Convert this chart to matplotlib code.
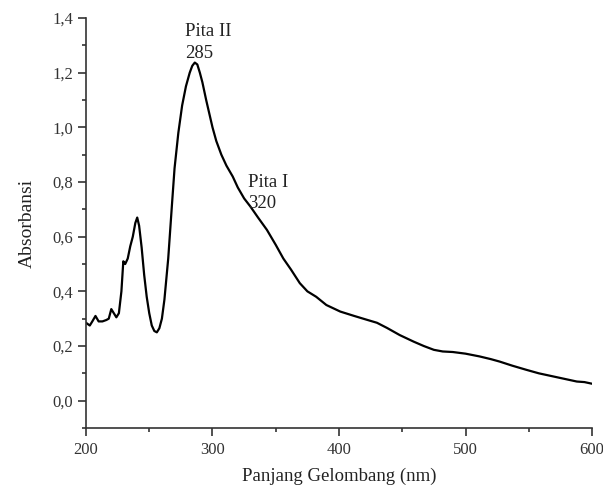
import matplotlib
matplotlib.use("Agg")
import matplotlib.pyplot as plt
from matplotlib.ticker import MultipleLocator, FuncFormatter

wavelength = [200, 203, 205, 207.5, 210, 213, 216, 218, 220, 222, 224, 226, 228, 229.5, 231, 233, 235, 237, 239, 240.5,
              242, 244, 246, 248, 250, 252, 254, 256, 258, 260, 262, 265, 268, 270, 273, 276, 279, 282, 284, 286,
              288, 290, 292, 295, 298, 300, 303, 307, 311, 316, 320, 325, 330, 336, 343, 350, 356, 362, 369,
              375, 382, 390, 401, 412, 422, 430, 438, 448, 459, 467, 475, 482, 490, 500, 511, 520, 527, 537,
              548, 558, 569, 578, 588, 594, 600]
absorb = [0.285, 0.275, 0.29, 0.31, 0.29, 0.29, 0.295, 0.30, 0.335, 0.32, 0.305, 0.32, 0.40, 0.51, 0.50, 0.52, 0.565, 0.60, 0.65, 0.67,
          0.64, 0.56, 0.46, 0.38, 0.32, 0.275, 0.255, 0.25, 0.265, 0.30, 0.37, 0.52, 0.72, 0.85, 0.98, 1.08, 1.15, 1.20, 1.225, 1.237,
          1.23, 1.20, 1.165, 1.10, 1.04, 1.00, 0.95, 0.90, 0.86, 0.82, 0.78, 0.74, 0.71, 0.67, 0.625, 0.57, 0.52, 0.48, 0.43,
          0.40, 0.38, 0.35, 0.326, 0.31, 0.296, 0.285, 0.266, 0.24, 0.216, 0.20, 0.186, 0.18, 0.178, 0.172, 0.162, 0.152, 0.143, 0.128,
          0.113, 0.10, 0.089, 0.08, 0.07, 0.068, 0.062]

x_ticks = [200, 300, 400, 500, 600]
y_ticks = [0.0, 0.2, 0.4, 0.6, 0.8, 1.0, 1.2, 1.4]

plt.rcParams['font.family'] = ['Liberation Serif', 'DejaVu Serif']

fig = plt.figure(figsize=(6.03, 4.91), dpi=100)
ax = fig.add_axes([0.1426, 0.1283, 0.8392, 0.835])
ax.plot(wavelength, absorb, color='black', lw=1.6)
ax.set_xlim(200, 600)
ax.set_ylim(-0.1, 1.4)
ax.set_xticks(x_ticks)
ax.set_yticks(y_ticks)
ax.xaxis.set_minor_locator(MultipleLocator(50))
ax.yaxis.set_minor_locator(MultipleLocator(0.1))
ax.yaxis.set_major_formatter(FuncFormatter(lambda v, p: f"{v:.1f}".replace('.', ',')))
ax.spines['top'].set_visible(False)
ax.spines['right'].set_visible(False)
for s in ['left', 'bottom']:
    ax.spines[s].set_linewidth(1.2)
    ax.spines[s].set_color('#333333')
ax.tick_params(which='major', direction='out', length=6, width=1.2, labelsize=12, colors='#333333', pad=3)
ax.tick_params(which='minor', direction='out', length=3, width=1.2, colors='#333333')
ax.tick_params(axis='x', which='major', pad=4)
ax.set_xlabel('Panjang Gelombang (nm)', fontsize=13.5, color='#222222', labelpad=7)
ax.set_ylabel('Absorbansi', fontsize=14, color='#222222', labelpad=12)

ax.text(278, 1.35, 'Pita II', fontsize=13.5, color='#222222', ha='left', va='center')
ax.text(278, 1.27, '285', fontsize=13.5, color='#222222', ha='left', va='center')
ax.text(328, 0.80, 'Pita I', fontsize=13.5, color='#222222', ha='left', va='center')
ax.text(328, 0.72, '320', fontsize=13.5, color='#222222', ha='left', va='center')

fig.savefig('out.png', dpi=100)
